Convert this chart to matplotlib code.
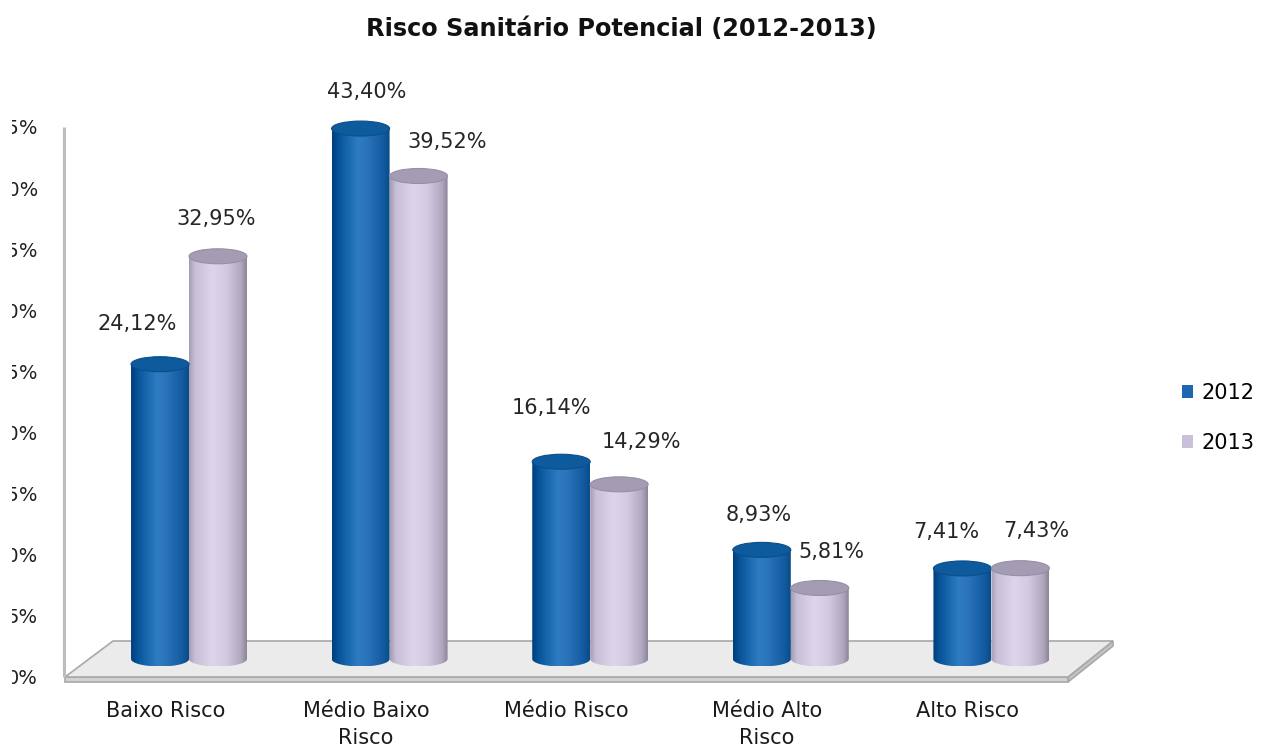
import numpy as np
import matplotlib
matplotlib.use('Agg')
import matplotlib.pyplot as plt
from matplotlib.patches import Polygon, Ellipse, PathPatch, Patch
from matplotlib.path import Path
from matplotlib.colors import LinearSegmentedColormap
from matplotlib.transforms import Bbox, TransformedBbox

# ---------------- data ----------------
title = 'Risco Sanitário Potencial (2012-2013)'
categories = ['Baixo Risco', 'Médio Baixo\nRisco', 'Médio Risco', 'Médio Alto\nRisco', 'Alto Risco']
series_names = ['2012', '2013']
values_2012 = [24.12, 43.40, 16.14, 8.93, 7.41]
values_2013 = [32.95, 39.52, 14.29, 5.81, 7.43]
y_ticks = [0, 5, 10, 15, 20, 25, 30, 35, 40, 45]
y_tick_labels = ['0%', '5%', '10%', '15%', '20%', '25%', '30%', '35%', '40%', '45%']

# ---------------- layout (pixels) ----------------
W, H = 1261, 756
PX_PER_UNIT = 12.22
label_offsets_2012 = [(-23, 40), (6, 37), (-10, 54), (-3, 35), (-16, 36)]
label_offsets_2013 = [(-2, 37), (29, 34), (22, 42), (12, 36), (16, 37)]

fig = plt.figure(figsize=(W / 100, H / 100), dpi=100)
fig.patch.set_facecolor('white')


def fpos(x0, y_top, x1, y_bot):
    return [x0 / W, 1 - y_bot / H, (x1 - x0) / W, (y_bot - y_top) / H]


# front plane axes (ticks, floor, category labels)
ax_t = fig.add_axes(fpos(65, 127, 1068, 677))
ax_t.set_xlim(-0.5, 4.5)
ax_t.set_ylim(0, 45)
ax_t.patch.set_visible(False)
for s in ax_t.spines.values():
    s.set_visible(False)
ax_t.set_yticks(y_ticks)
ax_t.set_yticklabels(y_tick_labels, fontsize=14, color='#1f1f1f')
ax_t.set_xticks(range(len(categories)))
ax_t.set_xticklabels(categories, fontsize=15, color='#1a1a1a', linespacing=1.45)
ax_t.tick_params(axis='y', length=0, pad=19.5)
ax_t.tick_params(axis='x', length=0, pad=17)

# the reference image is cropped at the left: tick labels are cut at x = 12 px
clip_box = TransformedBbox(Bbox.from_extents(12 / W, 0, 1, 1), fig.transFigure)
for lab in ax_t.get_yticklabels():
    lab.set_clip_box(clip_box)
    lab.set_clip_on(True)


def t_xy(px, py):
    return (-0.5 + (px - 65) / 200.6, (677 - py) / PX_PER_UNIT)


floor_kw = dict(closed=True, clip_on=False, lw=1.2, edgecolor='#a8a8a8')
ax_t.add_patch(Polygon([t_xy(65, 677), t_xy(1068, 677), t_xy(1068, 682), t_xy(65, 682)],
                       facecolor='#d2d2d2', **floor_kw))
ax_t.add_patch(Polygon([t_xy(1068, 677), t_xy(1113, 641), t_xy(1113, 646), t_xy(1068, 682)],
                       facecolor='#c4c4c4', **floor_kw))
ax_t.add_patch(Polygon([t_xy(65, 677), t_xy(1068, 677), t_xy(1113, 641), t_xy(113, 641)],
                       facecolor='#ebebeb', **floor_kw))
ax_t.plot([t_xy(64, 0)[0]] * 2, [0, 45], color='#bdbdbd', lw=2.2, clip_on=False,
          solid_capstyle='butt')

# bars axes (depth plane, shifted)
ax_b = fig.add_axes(fpos(88.7, 109, 1091.7, 659 + 2 * PX_PER_UNIT))
ax_b.set_xlim(-0.5, 4.5)
ax_b.set_ylim(-2, 45)
ax_b.axis('off')
ax_b.patch.set_visible(False)

blue_cmap = LinearSegmentedColormap.from_list('b', [
    (0.0, '#003f7c'), (0.12, '#07559a'), (0.45, '#2f7cc2'), (0.62, '#2a73b8'),
    (0.88, '#145ca2'), (1.0, '#0a4b88')])
lav_cmap = LinearSegmentedColormap.from_list('l', [
    (0.0, '#a59db3'), (0.1, '#c8bfd8'), (0.4, '#ddd5ea'), (0.65, '#d3cae1'),
    (0.9, '#b1a8bf'), (1.0, '#8c8498')])
styles = [dict(cmap=blue_cmap, top='#0d5b9d', top_edge='#0a4e8c'),
          dict(cmap=lav_cmap, top='#a49cb2', top_edge='#978fa5')]

bar_w = 0.289
eh = 7.5 / PX_PER_UNIT  # ellipse semi-height in data units
grad = np.linspace(0, 1, 128)[np.newaxis, :]


def cylinder(ax, xc, v, st):
    x0, x1 = xc - bar_w / 2, xc + bar_w / 2
    t = np.linspace(np.pi, 2 * np.pi, 60)
    verts = [(x0, v), (x0, 0)] + [(xc + bar_w / 2 * np.cos(a), eh * np.sin(a)) for a in t] + [(x1, v), (x0, v)]
    codes = [Path.MOVETO] + [Path.LINETO] * (len(verts) - 2) + [Path.CLOSEPOLY]
    pp = PathPatch(Path(verts, codes), facecolor='none', edgecolor='none', transform=ax.transData)
    ax.add_patch(pp)
    im = ax.imshow(grad, extent=[x0, x1, -eh, v], aspect='auto', cmap=st['cmap'],
                   interpolation='bilinear', zorder=2)
    im.set_clip_path(pp)
    ax.add_patch(Ellipse((xc, v), bar_w, 2 * eh, facecolor=st['top'], edgecolor=st['top_edge'],
                         lw=0.8, zorder=3))


for si, (vals, offs) in enumerate([(values_2012, label_offsets_2012), (values_2013, label_offsets_2013)]):
    for i, v in enumerate(vals):
        xc = i + (si - 0.5) * bar_w
        cylinder(ax_b, xc, v, styles[si])
        lab = f'{v:.2f}%'.replace('.', ',')
        ax_b.annotate(lab, (xc, v), xytext=offs[i], textcoords='offset pixels',
                      ha='center', va='center', fontsize=15, color='#262626', zorder=5)

ax_b.set_xlim(-0.5, 4.5)
ax_b.set_ylim(-2, 45)

fig.text(621 / W, 1 - 29 / H, title, ha='center', va='center', fontsize=17.3,
         fontweight='bold', color='#111111')

handles = [Patch(facecolor='#1f66b0', edgecolor='none'), Patch(facecolor='#cbc0dc', edgecolor='none')]
fig.legend(handles, series_names, loc='center left', bbox_to_anchor=(1182 / W, 1 - 418 / H),
           frameon=False, fontsize=15, handlelength=0.55, handleheight=0.55,
           handletextpad=0.4, labelspacing=1.45, borderaxespad=0, borderpad=0)

fig.savefig('out.png', dpi=100, facecolor='white')
